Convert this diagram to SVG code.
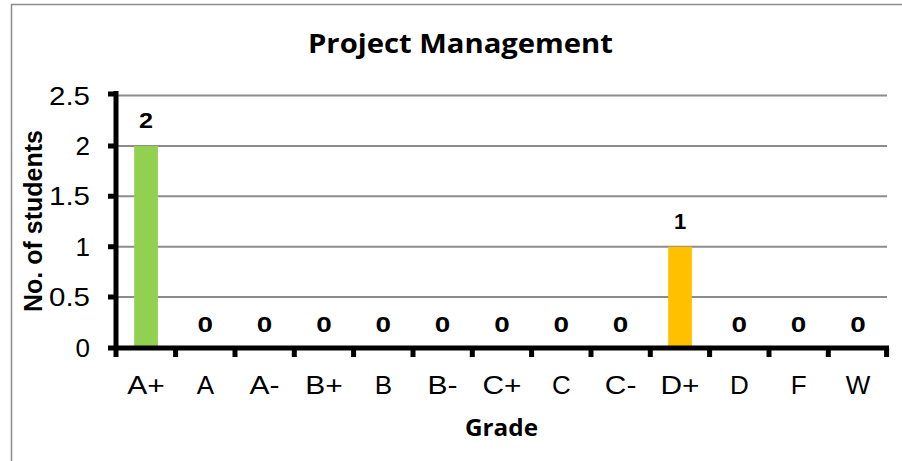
<svg xmlns="http://www.w3.org/2000/svg" width="902" height="461" viewBox="0 0 902 461">
<style>
.grid{stroke:#8c8c8c;stroke-width:2}
.axis{stroke:#000;stroke-width:5;fill:none}
.tick{font-family:"Liberation Sans",Arial,sans-serif;font-size:26px;fill:#000}
.ylab{text-anchor:end}
.xlab{text-anchor:middle}
.dl{font-family:"Liberation Sans",Arial,sans-serif;font-size:22px;font-weight:bold;text-anchor:middle;fill:#000}
.cal{font-family:"Open Sans",Lato,sans-serif;font-weight:bold;text-anchor:middle;fill:#000}
</style>
<rect x="0" y="0" width="902" height="461" fill="#fff"/>
<rect x="11.5" y="4.5" width="900" height="470" fill="#fff" stroke="#8c8c8c" stroke-width="1.5"/>
<text class="cal" x="460.5" y="53" font-size="27" textLength="305" lengthAdjust="spacingAndGlyphs">Project Management</text>
<g id="gridlines">
<line class="grid" x1="116" y1="95.5" x2="887" y2="95.5"/>
<line class="grid" x1="116" y1="145.9" x2="887" y2="145.9"/>
<line class="grid" x1="116" y1="196.3" x2="887" y2="196.3"/>
<line class="grid" x1="116" y1="246.7" x2="887" y2="246.7"/>
<line class="grid" x1="116" y1="297.1" x2="887" y2="297.1"/>
</g>
<g id="bars">
<rect id="bar-Aplus" x="134.2" y="145.9" width="23.7" height="201.6" fill="#92d050"/>
<rect id="bar-Dplus" x="668.2" y="246.7" width="23.7" height="100.8" fill="#ffc000"/>
</g>
<g id="axes">
<path class="axis" d="M116 91V357"/>
<path class="axis" d="M108 348H889"/>
<path class="axis" d="M108 94H116M108 145.9H116M108 196.3H116M108 246.7H116M108 297.1H116"/>
<path class="axis" d="M175.6 348V357M235 348V357M294.3 348V357M353.6 348V357M413 348V357M472.3 348V357M531.6 348V357M591 348V357M650.3 348V357M709.6 348V357M769 348V357M828.3 348V357M886.6 348V357"/>
</g>
<g id="ylabels" class="tick ylab">
<text x="90" y="104.5" textLength="41" lengthAdjust="spacingAndGlyphs">2.5</text>
<text x="90" y="154.9">2</text>
<text x="90" y="205.3" textLength="41" lengthAdjust="spacingAndGlyphs">1.5</text>
<text x="90" y="255.7">1</text>
<text x="90" y="306.1" textLength="41" lengthAdjust="spacingAndGlyphs">0.5</text>
<text x="90" y="356.5">0</text>
</g>
<g id="xlabels" class="tick xlab">
<text x="145.9" y="394" textLength="37.5" lengthAdjust="spacingAndGlyphs">A+</text>
<text x="205.3" y="394">A</text>
<text x="264.6" y="394" textLength="30" lengthAdjust="spacingAndGlyphs">A-</text>
<text x="323.9" y="394" textLength="37.5" lengthAdjust="spacingAndGlyphs">B+</text>
<text x="383.3" y="394">B</text>
<text x="442.6" y="394" textLength="30" lengthAdjust="spacingAndGlyphs">B-</text>
<text x="502" y="394" textLength="39" lengthAdjust="spacingAndGlyphs">C+</text>
<text x="561.3" y="394">C</text>
<text x="620.6" y="394" textLength="31.5" lengthAdjust="spacingAndGlyphs">C-</text>
<text x="680" y="394" textLength="39" lengthAdjust="spacingAndGlyphs">D+</text>
<text x="739.3" y="394">D</text>
<text x="798.6" y="394">F</text>
<text x="858" y="394">W</text>
</g>
<g id="datalabels" class="dl">
<text x="146" y="128" textLength="14" lengthAdjust="spacingAndGlyphs">2</text>
<text x="205.3" y="332" textLength="15.5" lengthAdjust="spacingAndGlyphs">0</text>
<text x="264.6" y="332" textLength="15.5" lengthAdjust="spacingAndGlyphs">0</text>
<text x="323.9" y="332" textLength="15.5" lengthAdjust="spacingAndGlyphs">0</text>
<text x="383.3" y="332" textLength="15.5" lengthAdjust="spacingAndGlyphs">0</text>
<text x="442.6" y="332" textLength="15.5" lengthAdjust="spacingAndGlyphs">0</text>
<text x="502" y="332" textLength="15.5" lengthAdjust="spacingAndGlyphs">0</text>
<text x="561.3" y="332" textLength="15.5" lengthAdjust="spacingAndGlyphs">0</text>
<text x="620.6" y="332" textLength="15.5" lengthAdjust="spacingAndGlyphs">0</text>
<text x="680" y="229">1</text>
<text x="739.3" y="332" textLength="15.5" lengthAdjust="spacingAndGlyphs">0</text>
<text x="798.6" y="332" textLength="15.5" lengthAdjust="spacingAndGlyphs">0</text>
<text x="858" y="332" textLength="15.5" lengthAdjust="spacingAndGlyphs">0</text>
</g>
<text class="cal" x="501.5" y="436" font-size="24" textLength="73" lengthAdjust="spacingAndGlyphs">Grade</text>
<text font-family="Liberation Sans,Arial,sans-serif" font-weight="bold" font-size="25" text-anchor="middle" transform="translate(42 221) rotate(-90)">No. of students</text>
</svg>
